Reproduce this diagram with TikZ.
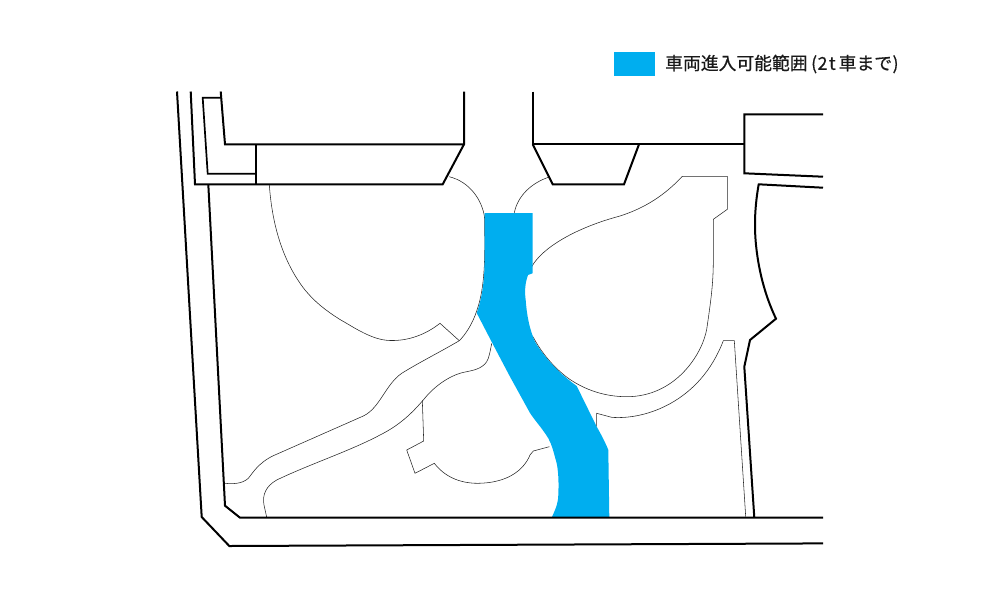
\documentclass[tikz,border=0pt]{standalone}
\usepackage{fontspec}
\newfontfamily\cjk[FakeBold=0.6]{Noto Sans CJK JP}
\definecolor{zone}{HTML}{00AEEF}
\tikzset{
  wall/.style={draw=black,line width=2pt,line join=miter},
  thin/.style={draw=black!85,line width=0.55pt,line join=miter},
  zonefill/.style={fill=zone,draw=none},
}
\begin{document}
\begin{tikzpicture}[x=1pt,y=-1pt]
\useasboundingbox (0,0) rectangle (1000,600);
% thin lines
\draw[thin] (459.3,340.7) -- (440,323.3) .. controls (425,335) and (408,341) .. (390,340.5)
  .. controls (372,340) and (355,328) .. (340,319.5) .. controls (325,310) and (315,302) .. (305,290)
  .. controls (283,262) and (272,225) .. (269.3,184.3);
\draw[thin] (449.3,176.7) .. controls (470,182) and (482,200) .. (484.5,217) .. controls (485,250) and (486,285) .. (476.7,311)
  .. controls (472,325) and (465,335) .. (459.3,340.7) .. controls (440,352) and (420,362) .. (401.7,373.3)
  .. controls (385,385) and (380,408) .. (363.3,416) -- (273.3,455.7)
  .. controls (258,463) and (252,474) .. (248.3,478.3) .. controls (242,484) and (233,484) .. (225,483.3);
\draw[thin] (491.7,343.3) .. controls (490,352) and (489,358) .. (486.7,361.7) .. controls (482,369) and (472,370.5) .. (466.7,371.7)
  .. controls (452,374) and (435,385) .. (423.3,400) .. controls (412,413) and (400,425) .. (380,435)
  .. controls (350,451) and (310,464) .. (276.7,480) .. controls (266,486) and (262,495) .. (264,505) -- (266.7,517.3);
\draw[thin] (422.3,400) -- (423.7,441) -- (406.7,450) -- (415,473.3) -- (434.3,463.3)
  .. controls (445,477) and (460,483.3) .. (478,483.3) .. controls (505,483) and (523,472) .. (530,455)
  -- (533.3,451) -- (549.3,446.7);
\draw[thin] (548.3,177.3) .. controls (532,183) and (518,195) .. (514.3,212.7);
\draw[thin] (531.7,266.7) .. controls (542,248) and (575,228) .. (620,216)
  .. controls (645,208) and (665,195) .. (682.3,176.3) -- (727.3,176.3) -- (727.3,209.3) -- (713.3,219.3)
  -- (713.3,263.3) .. controls (713,285) and (711,300) .. (706.7,329.3)
  .. controls (702,355) and (675,396.7) .. (626.7,396.7) .. controls (605,396.7) and (585,390) .. (568.3,378.3)
  .. controls (553,367) and (541,352) .. (533,336.7);
\draw[thin] (596.7,426.7) -- (596.7,413.3) -- (611.7,417.3) .. controls (645,420) and (700,402) .. (723.3,340.7)
  -- (734.3,340.7) -- (745.7,516.7);
% permitted zone
\path[zonefill] (484.5,213) -- (532.5,213) -- (532.5,273.3) -- (528,275)
  .. controls (525,283) and (524.5,292) .. (525.7,300) .. controls (527,318) and (530,330) .. (535,341.7)
  .. controls (543,355) and (556,371) .. (576.7,386) -- (596.7,426.7)
  .. controls (602,436) and (606,444) .. (608.3,450) -- (609.3,517.5) -- (551.7,517.5)
  .. controls (556,508) and (558.3,503) .. (558.3,494) .. controls (559,480) and (558,470) .. (556.7,463.3)
  .. controls (553,450) and (552,445) .. (548.3,438.3) .. controls (542,428) and (536,422) .. (530,413)
  -- (510,376.7) -- (493.3,345) -- (476.7,313) .. controls (482,298) and (485,280) .. (484.5,255) -- cycle;
% thick walls
\draw[wall] (177,91.5) -- (201.7,517) -- (229.3,546) -- (823,543.4);
\draw[wall] (190.7,91.5) -- (195,184.3) -- (442.7,184.3) -- (464,144.3) -- (464,91.5);
\draw[wall] (208.3,184.3) -- (225,505.7) -- (240,517.7) -- (823,517.7);
\draw[wall,line width=1.7pt] (220.7,97.7) -- (202.7,97.7) -- (207.7,173.7) -- (255.7,173.7);
\draw[wall] (220.7,91.5) -- (225,144.3) -- (464,144.3);
\draw[wall] (255.7,144.3) -- (255.7,184.3);
\draw[wall] (532.7,91.5) -- (532.7,144.3) -- (744.3,144.3);
\draw[wall] (532.7,144.3) -- (552.7,184.3) -- (624,184.3) -- (639,144.3);
\draw[wall] (823,114.3) -- (744.3,114.3) -- (744.3,173.3) -- (823,176.7);
\draw[wall] (823,187.7) -- (758.7,184.3) .. controls (755,205) and (754,225) .. (756,245)
  .. controls (759,275) and (767,300) .. (776,318.7) -- (750,340) -- (744.3,366.7) -- (754.3,517.7);
% legend
\path[zonefill] (614,52.3) rectangle (655,75.7);
\node[anchor=west,inner sep=0pt,font=\cjk\fontsize{17.8}{20}\selectfont,text=black!90] (legend) at (665,64)
  {車両進入可能範囲\hspace{3.5pt}(\hspace{0.5pt}2\hspace{1.5pt}t\hspace{3pt}車まで\hspace{0.5pt})};
\end{tikzpicture}
\end{document}
